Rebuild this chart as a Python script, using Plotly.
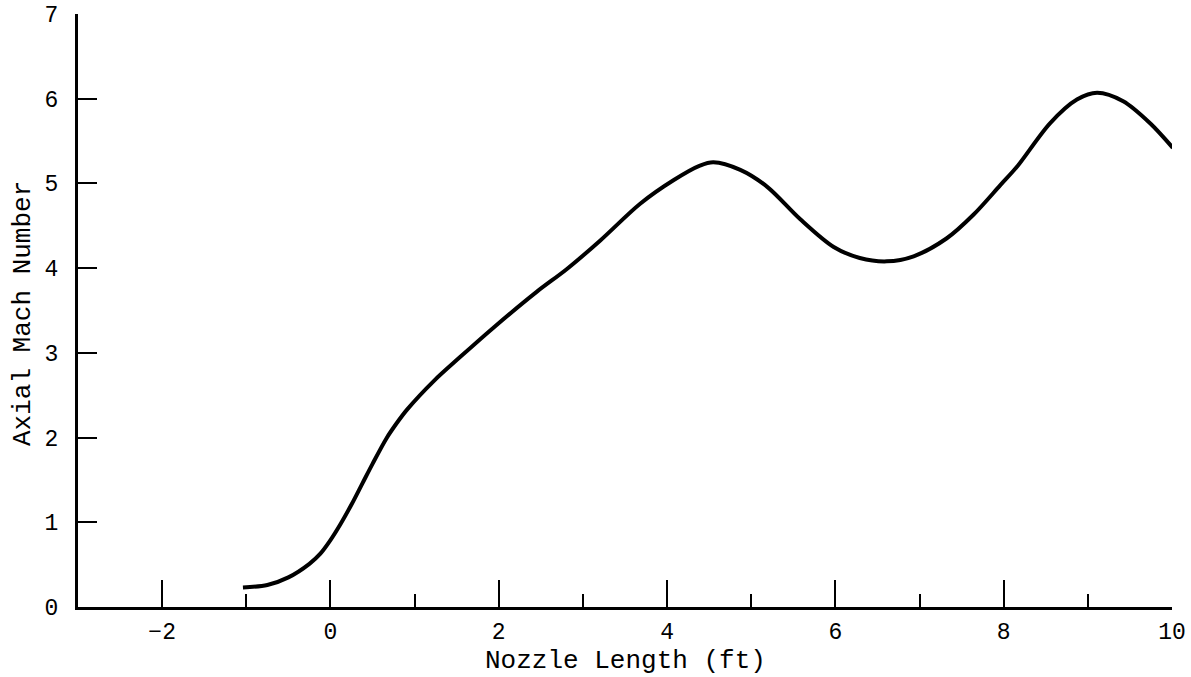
import plotly.graph_objects as go

# Nozzle length (ft) and axial Mach number
nozzle_length = [-1.04, -0.75, -0.5, -0.25, -0.12, 0.0, 0.12, 0.25, 0.38, 0.5, 0.665,
                 0.78, 0.91, 1.23, 1.54, 1.94, 2.45, 2.81, 3.21, 3.68, 4.08,
                 4.39, 4.55, 4.87, 5.19, 5.58, 5.98, 6.29, 6.61, 6.93, 7.32,
                 7.64, 7.96, 8.16, 8.55, 8.87, 9.11, 9.42, 9.74, 10.01]
mach_number = [0.23, 0.26, 0.35, 0.51, 0.63, 0.79, 0.98, 1.21, 1.46, 1.69, 1.99,
               2.16, 2.33, 2.67, 2.95, 3.30, 3.72, 3.99, 4.33, 4.76, 5.04,
               5.21, 5.25, 5.16, 4.96, 4.58, 4.25, 4.12, 4.08, 4.14, 4.35,
               4.63, 4.98, 5.20, 5.71, 5.99, 6.07, 5.97, 5.71, 5.42]

x_range = [-3, 10]
y_range = [0, 7]
y_ticks = [0, 1, 2, 3, 4, 5, 6, 7]
x_title = "Nozzle Length (ft)"
y_title = "Axial Mach Number"

fig = go.Figure()
fig.add_trace(go.Scatter(
    x=nozzle_length, y=mach_number, mode="lines",
    line=dict(color="black", width=4, shape="spline", smoothing=0.9),
    showlegend=False, hoverinfo="skip",
))

tick_font = dict(family="Liberation Mono", size=23, color="black")
title_font = dict(family="Liberation Mono", size=26, color="black")

# plot area spans x 78..1172, y 14..607 on screen (body margin removed)
L, T, R, B = 78, 14, 19, 70
W, H = 1191, 677
plot_w = W - L - R
plot_h = H - T - B

fig.update_layout(
    width=W, height=H,
    margin=dict(l=L, r=R, t=T, b=B, autoexpand=False),
    paper_bgcolor="white", plot_bgcolor="white",
    xaxis=dict(
        range=x_range, showgrid=False, zeroline=False,
        showline=True, linecolor="black", linewidth=3,
        tickmode="linear", tick0=0, dtick=2,
        ticks="inside", ticklen=27, tickwidth=2, tickcolor="black",
        minor=dict(tickmode="linear", tick0=0, dtick=1, ticks="inside",
                   ticklen=13, tickwidth=2, tickcolor="black", showgrid=False),
        tickfont=tick_font, ticklabelstandoff=1, ticklabeloverflow="allow",
        automargin=False,
    ),
    yaxis=dict(
        range=y_range, showgrid=False, zeroline=False,
        showline=True, linecolor="black", linewidth=3,
        tickmode="array", tickvals=y_ticks,
        ticks="inside", ticklen=19, tickwidth=2, tickcolor="black",
        tickfont=tick_font, ticklabelstandoff=12, ticklabeloverflow="allow",
        automargin=False,
    ),
    annotations=[
        dict(text=x_title, font=title_font, showarrow=False,
             xref="paper", yref="paper", x=0.5, y=-(661 - 607) / plot_h,
             xanchor="center", yanchor="middle"),
        dict(text=y_title, font=title_font, showarrow=False, textangle=-90,
             xref="paper", yref="paper", x=(23 - 78) / plot_w,
             y=(607 - 314) / plot_h, xanchor="center", yanchor="middle"),
    ],
)

fig.write_html("out.html", config={"displayModeBar": False},
               post_script="document.body.style.margin='0';document.body.style.overflow='hidden';")
